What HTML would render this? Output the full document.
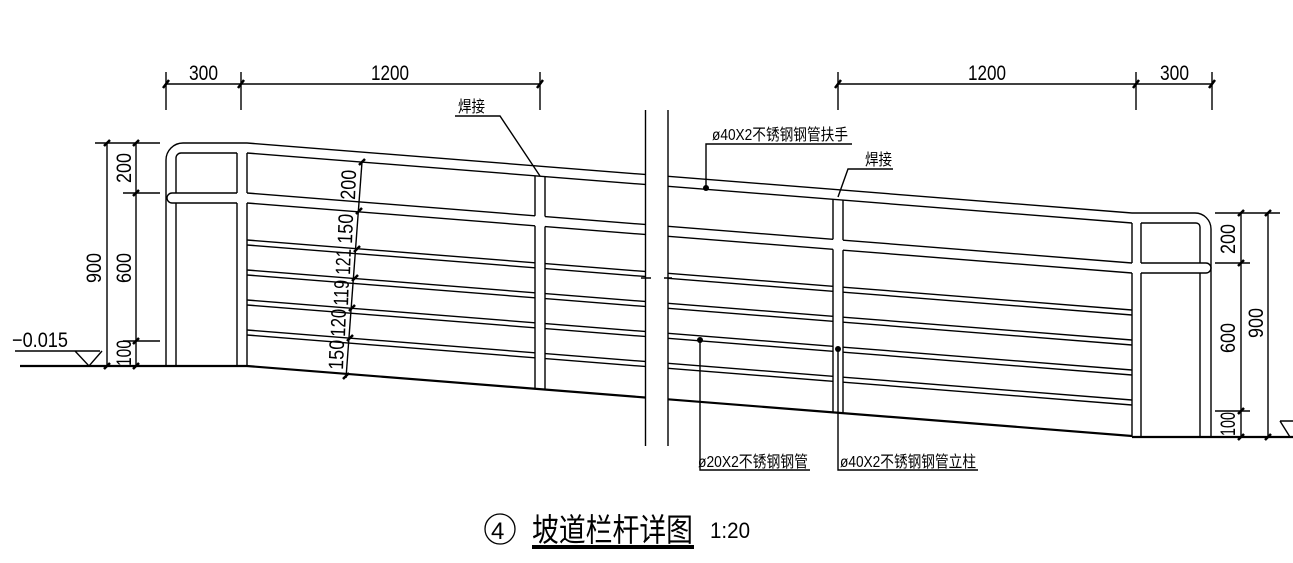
<!DOCTYPE html>
<html><head><meta charset="utf-8"><style>
html,body{margin:0;padding:0;background:#fff;}
svg{display:block;}
text{font-family:"Liberation Sans","Noto Sans CJK SC",sans-serif;fill:#000;}
</style></head><body>
<svg width="1293" height="563" viewBox="0 0 1293 563" xmlns="http://www.w3.org/2000/svg">
<g stroke="#000" stroke-width="1.4" fill="none">
<g transform="matrix(1,0.0791,0,1,0,-19.54)">
  <path d="M247,143H645M668,143H1132M247,153H645M668,153H1132"/>
  <path d="M247,193H535M545,193H645M668,193H833M843,193H1132M247,203H535M545,203H645M668,203H833M843,203H1132"/>
  <path d="M247,240H535M545,240H645M668,240H833M843,240H1132M247,245H535M545,245H645M668,245H833M843,245H1132"/>
  <path d="M247,270H535M545,270H645M668,270H833M843,270H1132M247,275H535M545,275H645M668,275H833M843,275H1132"/>
  <path d="M247,300H535M545,300H645M668,300H833M843,300H1132M247,305H535M545,305H645M668,305H833M843,305H1132"/>
  <path d="M247,330H535M545,330H645M668,330H833M843,330H1132M247,335H535M545,335H645M668,335H833M843,335H1132"/>
  <path d="M535,153V193M535,203V366M545,153V193M545,203V366M833,153V193M833,203V366M843,153V193M843,203V366"/>
  <path d="M247,366H645M668,366H1132" stroke-width="2.2"/>
</g>
<path d="M247,143H183A17,17 0 0 0 166,160V366"/>
<path d="M237,153H181A5,5 0 0 0 176,158V193M176,203V366"/>
<path d="M237,193H172A5,5 0 0 0 172,203H237"/>
<path d="M237,153V193M237,203V366M247,153V193M247,203V366"/>
<path d="M20,366H247" stroke-width="2.2"/>
<path d="M1132,213H1195A16,16 0 0 1 1211,229V437"/>
<path d="M1141,223H1196A4,4 0 0 1 1200,227V263M1200,273V437"/>
<path d="M1141,263H1206A5,5 0 0 1 1206,273H1141"/>
<path d="M1132,223V263M1132,273V437M1141,223V263M1141,273V437"/>
<path d="M1132,437H1293" stroke-width="2.2"/>
<path d="M645.5,110V446M668,110V446M641,278H651M664,278H672"/>
<path d="M166,84H540M166,72V110M241,72V110M540,72V110"/>
<path d="M838,84H1212M838,72V110M1136,72V110M1212,72V110"/>
<g stroke-width="2.5"><path d="M163,88L169,80M238,88L244,80M537,88L543,80M835,88L841,80M1133,88L1139,80M1209,88L1215,80"/></g>
<path d="M95,143H160M123,193H160M123,341H160M107,143V366M136,143V366"/>
<g stroke-width="2.5"><path d="M104,146L110,140M133,146L139,140M133,196L139,190M133,344L139,338M104,369L110,363M133,369L139,363"/></g>
<path d="M15,351H100M75,351L89,366L102,351"/>
<path d="M362,162L346,378"/>
<g stroke-width="2.5"><path d="M359,165L365,159M356,214L362,208M354,252L360,246M352,281L358,275M349,311L355,305M347,341L353,335M343,379L349,373"/></g>
<path d="M1215,213H1280M1215,263H1250M1215,411H1250M1241,213V437M1268,213V437"/>
<g stroke-width="2.5"><path d="M1238,216L1244,210M1265,216L1271,210M1238,266L1244,260M1238,414L1244,408M1238,440L1244,434M1265,440L1271,434"/></g>
<path d="M1280,421H1293M1280,421L1290,437"/>
<path d="M455,116H500L540,176"/>
<path d="M706,188V144H852"/>
<path d="M893,169H848L838,197"/>
<path d="M700,340V470H810"/>
<path d="M838,349V470H978"/>
</g>
<g fill="#000"><circle cx="706" cy="188" r="3"/><circle cx="700" cy="340" r="3"/><circle cx="838" cy="349" r="3"/></g>
<g font-size="21">
<text x="189" y="80" textLength="29" lengthAdjust="spacingAndGlyphs">300</text>
<text x="371" y="80" textLength="38" lengthAdjust="spacingAndGlyphs">1200</text>
<text x="968" y="80" textLength="38" lengthAdjust="spacingAndGlyphs">1200</text>
<text x="1160" y="80" textLength="29" lengthAdjust="spacingAndGlyphs">300</text>
<text x="12" y="347" textLength="56" lengthAdjust="spacingAndGlyphs">−0.015</text>
<text transform="translate(101,283) rotate(-90)" textLength="30" lengthAdjust="spacingAndGlyphs">900</text>
<text transform="translate(131,183) rotate(-90)" textLength="30" lengthAdjust="spacingAndGlyphs">200</text>
<text transform="translate(131,283) rotate(-90)" textLength="30" lengthAdjust="spacingAndGlyphs">600</text>
<text transform="translate(131,366) rotate(-90)" textLength="26" lengthAdjust="spacingAndGlyphs">100</text>
<text transform="translate(355,200) rotate(-88)" textLength="30" lengthAdjust="spacingAndGlyphs">200</text>
<text transform="translate(352,244) rotate(-88)" textLength="30" lengthAdjust="spacingAndGlyphs">150</text>
<text transform="translate(350,275) rotate(-88)" textLength="26" lengthAdjust="spacingAndGlyphs">121</text>
<text transform="translate(348,306) rotate(-88)" textLength="26" lengthAdjust="spacingAndGlyphs">119</text>
<text transform="translate(345,337) rotate(-88)" textLength="28" lengthAdjust="spacingAndGlyphs">120</text>
<text transform="translate(343,370) rotate(-88)" textLength="30" lengthAdjust="spacingAndGlyphs">150</text>
<text transform="translate(1235,254) rotate(-90)" textLength="30" lengthAdjust="spacingAndGlyphs">200</text>
<text transform="translate(1235,353) rotate(-90)" textLength="30" lengthAdjust="spacingAndGlyphs">600</text>
<text transform="translate(1235,436) rotate(-90)" textLength="24" lengthAdjust="spacingAndGlyphs">100</text>
<text transform="translate(1263,338) rotate(-90)" textLength="30" lengthAdjust="spacingAndGlyphs">900</text>
</g>
<g font-size="16">
<text x="458" y="112" textLength="27" lengthAdjust="spacingAndGlyphs">焊接</text>
<text x="865" y="165" textLength="27" lengthAdjust="spacingAndGlyphs">焊接</text>
<text x="712" y="140" textLength="136" lengthAdjust="spacingAndGlyphs">ø40X2不锈钢钢管扶手</text>
<text x="698" y="467" textLength="110" lengthAdjust="spacingAndGlyphs">ø20X2不锈钢钢管</text>
<text x="840" y="467" textLength="136" lengthAdjust="spacingAndGlyphs">ø40X2不锈钢钢管立柱</text>
</g>
<circle cx="500" cy="529" r="15" fill="none" stroke="#000" stroke-width="1.3"/>
<text x="491" y="539" font-size="24">4</text>
<text x="532" y="541" font-size="32" textLength="161" lengthAdjust="spacingAndGlyphs">坡道栏杆详图</text>
<rect x="532" y="545" width="162" height="4" fill="#000"/>
<text x="710" y="538" font-size="22" textLength="40" lengthAdjust="spacingAndGlyphs">1:20</text>
</svg>
</body></html>
